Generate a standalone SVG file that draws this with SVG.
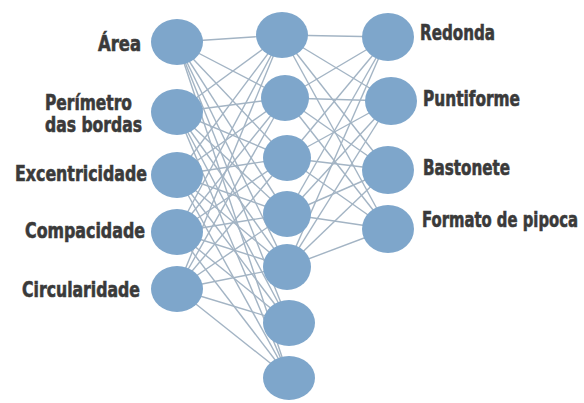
<svg xmlns="http://www.w3.org/2000/svg" width="584" height="403" viewBox="0 0 584 403">
<style>
.n{fill:#7ea6cb;}
.c line{stroke:#a3b4c4;stroke-width:1.4;}
.t{font-family:"DejaVu Sans Condensed","DejaVu Sans",sans-serif;font-weight:bold;font-stretch:condensed;font-size:21px;fill:#3a3a3a;stroke:#3a3a3a;stroke-width:0.6;}
.r{text-anchor:end;}
</style>
<rect width="584" height="403" fill="#ffffff"/>
<g id="connectors" class="c">
<line x1="177" y1="42" x2="282" y2="35"/><line x1="177" y1="42" x2="285" y2="98"/><line x1="177" y1="42" x2="287" y2="158"/><line x1="177" y1="42" x2="287" y2="214"/><line x1="177" y1="42" x2="287" y2="267"/><line x1="177" y1="42" x2="289" y2="323"/><line x1="177" y1="42" x2="289" y2="378"/>
<line x1="177" y1="112" x2="282" y2="35"/><line x1="177" y1="112" x2="285" y2="98"/><line x1="177" y1="112" x2="287" y2="158"/><line x1="177" y1="112" x2="287" y2="214"/><line x1="177" y1="112" x2="287" y2="267"/><line x1="177" y1="112" x2="289" y2="323"/><line x1="177" y1="112" x2="289" y2="378"/>
<line x1="177" y1="175" x2="282" y2="35"/><line x1="177" y1="175" x2="285" y2="98"/><line x1="177" y1="175" x2="287" y2="158"/><line x1="177" y1="175" x2="287" y2="214"/><line x1="177" y1="175" x2="287" y2="267"/><line x1="177" y1="175" x2="289" y2="323"/><line x1="177" y1="175" x2="289" y2="378"/>
<line x1="177" y1="232" x2="282" y2="35"/><line x1="177" y1="232" x2="285" y2="98"/><line x1="177" y1="232" x2="287" y2="158"/><line x1="177" y1="232" x2="287" y2="214"/><line x1="177" y1="232" x2="287" y2="267"/><line x1="177" y1="232" x2="289" y2="323"/><line x1="177" y1="232" x2="289" y2="378"/>
<line x1="177" y1="289" x2="282" y2="35"/><line x1="177" y1="289" x2="285" y2="98"/><line x1="177" y1="289" x2="287" y2="158"/><line x1="177" y1="289" x2="287" y2="214"/><line x1="177" y1="289" x2="287" y2="267"/><line x1="177" y1="289" x2="289" y2="323"/><line x1="177" y1="289" x2="289" y2="378"/>
<line x1="282" y1="35" x2="388" y2="37"/><line x1="282" y1="35" x2="391" y2="101"/><line x1="282" y1="35" x2="388" y2="170"/><line x1="282" y1="35" x2="388" y2="229"/>
<line x1="285" y1="98" x2="388" y2="37"/><line x1="285" y1="98" x2="391" y2="101"/><line x1="285" y1="98" x2="388" y2="170"/><line x1="285" y1="98" x2="388" y2="229"/>
<line x1="287" y1="158" x2="388" y2="37"/><line x1="287" y1="158" x2="391" y2="101"/><line x1="287" y1="158" x2="388" y2="170"/><line x1="287" y1="158" x2="388" y2="229"/>
<line x1="287" y1="214" x2="388" y2="37"/><line x1="287" y1="214" x2="391" y2="101"/><line x1="287" y1="214" x2="388" y2="170"/><line x1="287" y1="214" x2="388" y2="229"/>
<line x1="287" y1="267" x2="388" y2="37"/><line x1="287" y1="267" x2="391" y2="101"/><line x1="287" y1="267" x2="388" y2="170"/><line x1="287" y1="267" x2="388" y2="229"/>
</g>
<g id="in-area"><ellipse class="n" cx="177" cy="42" rx="26" ry="23"/><text class="t r" x="141" y="51" textLength="43" lengthAdjust="spacingAndGlyphs">Área</text></g>
<g id="in-perimetro"><ellipse class="n" cx="177" cy="112" rx="26" ry="23"/><text class="t" x="45" y="110" textLength="87" lengthAdjust="spacingAndGlyphs">Perímetro</text><text class="t" x="45" y="132" textLength="97" lengthAdjust="spacingAndGlyphs">das bordas</text></g>
<g id="in-excentricidade"><ellipse class="n" cx="177" cy="175" rx="26" ry="23"/><text class="t r" x="147" y="181" textLength="132" lengthAdjust="spacingAndGlyphs">Excentricidade</text></g>
<g id="in-compacidade"><ellipse class="n" cx="177" cy="232" rx="26" ry="23"/><text class="t r" x="145" y="238" textLength="120" lengthAdjust="spacingAndGlyphs">Compacidade</text></g>
<g id="in-circularidade"><ellipse class="n" cx="177" cy="289" rx="26" ry="23"/><text class="t r" x="140" y="297" textLength="118" lengthAdjust="spacingAndGlyphs">Circularidade</text></g>
<g id="h1"><ellipse class="n" cx="282" cy="35" rx="26" ry="23"/></g>
<g id="h2"><ellipse class="n" cx="285" cy="98" rx="24" ry="23"/></g>
<g id="h3"><ellipse class="n" cx="287" cy="158" rx="24" ry="23"/></g>
<g id="h4"><ellipse class="n" cx="287" cy="214" rx="24" ry="23"/></g>
<g id="h5"><ellipse class="n" cx="287" cy="267" rx="24" ry="23"/></g>
<g id="h6"><ellipse class="n" cx="289" cy="323" rx="26" ry="23"/></g>
<g id="h7"><ellipse class="n" cx="289" cy="378" rx="26" ry="22"/></g>
<g id="out-redonda"><ellipse class="n" cx="388" cy="37" rx="26" ry="24"/><text class="t" x="420" y="40" textLength="75" lengthAdjust="spacingAndGlyphs">Redonda</text></g>
<g id="out-puntiforme"><ellipse class="n" cx="391" cy="101" rx="26" ry="24"/><text class="t" x="423" y="106" textLength="97" lengthAdjust="spacingAndGlyphs">Puntiforme</text></g>
<g id="out-bastonete"><ellipse class="n" cx="388" cy="170" rx="26" ry="24"/><text class="t" x="423" y="175" textLength="87" lengthAdjust="spacingAndGlyphs">Bastonete</text></g>
<g id="out-pipoca"><ellipse class="n" cx="388" cy="229" rx="26" ry="24"/><text class="t" transform="translate(422,227) scale(0.78,1)" x="0" y="0" textLength="200" lengthAdjust="spacingAndGlyphs">Formato de pipoca</text></g>
</svg>
